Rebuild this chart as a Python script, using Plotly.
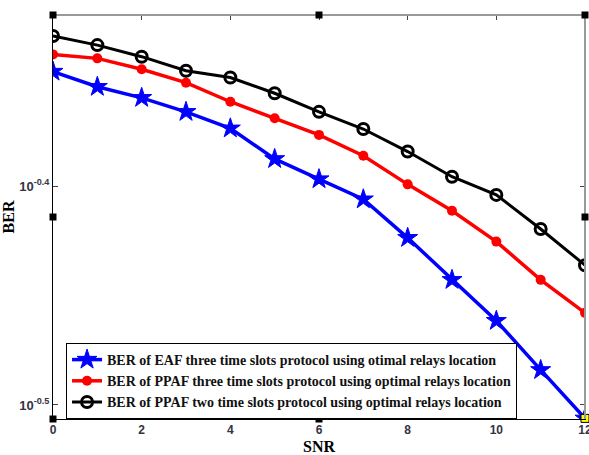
import plotly.graph_objects as go

snr = [0, 1, 2, 3, 4, 5, 6, 7, 8, 9, 10, 11, 12]
ber_eaf3 = [0.4490, 0.4419, 0.4368, 0.4304, 0.4230, 0.4096, 0.4010, 0.3926,
            0.3770, 0.3607, 0.3455, 0.3281, 0.3118]
ber_ppaf3 = [0.4572, 0.4553, 0.4501, 0.4438, 0.4350, 0.4275, 0.4201, 0.4110,
             0.3988, 0.3879, 0.3755, 0.3607, 0.3484]
ber_ppaf2 = [0.4661, 0.4617, 0.4561, 0.4494, 0.4462, 0.4389, 0.4304, 0.4227,
             0.4128, 0.4020, 0.3944, 0.3805, 0.3663]
names = ["BER of EAF three time slots protocol using otimal relays location",
         "BER of PPAF three time slots protocol using optimal relays location",
         "BER of PPAF two time slots protocol using optimal relays location"]
x_ticks = [0, 2, 4, 6, 8, 10, 12]
x_ticktext = ["<b>%d</b>" % v for v in x_ticks]
y_tickvals = [10 ** -0.5, 10 ** -0.4]
y_ticktext = ["<b>10<sup>-0.5</sup></b>", "<b>10<sup>-0.4</sup></b>"]

serif = "Liberation Serif"
fig = go.Figure()
fig.add_trace(go.Scatter(x=snr, y=ber_eaf3, name="<b>" + names[0] + "</b>", mode="lines+markers",
                         line=dict(color="#0000ff", width=3.5),
                         marker=dict(symbol="star", size=15, color="#0000ff",
                                     line=dict(color="#0000ff", width=1))))
fig.add_trace(go.Scatter(x=snr, y=ber_ppaf3, name="<b>" + names[1] + "</b>", mode="lines+markers",
                         line=dict(color="#ff0000", width=3.5),
                         marker=dict(symbol="circle", size=10, color="#ff0000")))
fig.add_trace(go.Scatter(x=snr, y=ber_ppaf2, name="<b>" + names[2] + "</b>", mode="lines+markers",
                         line=dict(color="#000000", width=3),
                         marker=dict(symbol="circle-open", size=11, color="#000000",
                                     line=dict(width=3))))
fig.add_trace(go.Scatter(x=snr[-1:], y=ber_eaf3[-1:], mode="markers", showlegend=False,
                         cliponaxis=False,
                         marker=dict(symbol="square", size=8, color="#ffff00",
                                     line=dict(color="#000000", width=1))))

# gray top and right frame lines
fig.add_shape(type="line", xref="paper", yref="paper", x0=0, x1=1, y0=1, y1=1,
              line=dict(color="#999999", width=2))
fig.add_shape(type="line", xref="paper", yref="paper", x0=1, x1=1, y0=0, y1=1,
              line=dict(color="#999999", width=2))

# decorative handle squares (figure window artifacts)
handles = [(0, 1), (0.5, 1), (1, 1), (0, 0), (0.5, 0), (0, 0.5), (1, 0.5)]
for hx, hy in handles:
    fig.add_shape(type="rect", xref="paper", yref="paper",
                  xsizemode="pixel", ysizemode="pixel", xanchor=hx, yanchor=hy,
                  x0=-3.5, x1=3.5, y0=-3.5, y1=3.5,
                  fillcolor="black", line=dict(color="black", width=0))

fig.update_layout(
    width=589, height=455,
    margin=dict(l=53, r=4, t=15, b=36, autoexpand=False),
    paper_bgcolor="white", plot_bgcolor="white",
    font=dict(family=serif, color="#000000"),
    legend=dict(x=0.0245, y=0, xanchor="left", yanchor="bottom",
                bgcolor="white", bordercolor="black", borderwidth=1,
                font=dict(family=serif, size=14, color="#111111"),
                tracegroupgap=0, itemwidth=30),
    xaxis=dict(range=[0, 12], tickvals=x_ticks, ticktext=x_ticktext, ticks="inside", ticklen=5,
               ticklabeloverflow="allow", automargin=False,
               showline=True, linecolor="black", linewidth=1, mirror="ticks",
               showgrid=False, zeroline=False,
               tickfont=dict(family="Liberation Sans Narrow, Liberation Sans", size=12, color="#333344"),
               title=dict(text="<b>SNR</b>", font=dict(family=serif, size=16), standoff=6)),
    yaxis=dict(type="log", range=[-0.5064, -0.3219], tickvals=y_tickvals, ticktext=y_ticktext,
               ticks="inside", ticklen=5, showline=True, linecolor="black", linewidth=1,
               mirror="ticks", showgrid=False, zeroline=False, automargin=False,
               tickfont=dict(family="Liberation Sans Narrow, Liberation Sans", size=13, color="#333344"),
               title=dict(text="<b>BER</b>", font=dict(family=serif, size=16), standoff=4)),
)
fig.write_html("out.html")
